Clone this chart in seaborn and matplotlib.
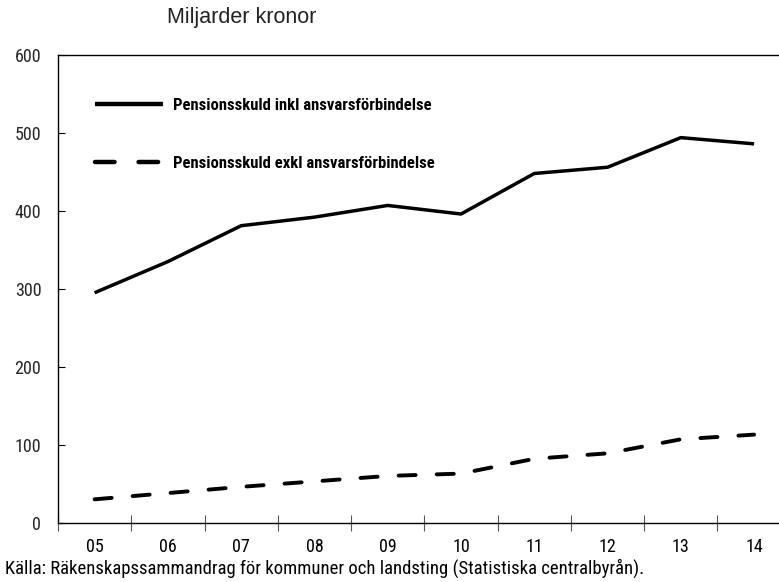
import matplotlib
matplotlib.use("Agg")
import matplotlib.pyplot as plt
import seaborn as sns
import pandas as pd
import numpy as np
from matplotlib.ticker import FixedLocator

years = ["05", "06", "07", "08", "09", "10", "11", "12", "13", "14"]
inkl = [295, 335, 381, 392, 407, 396, 448, 456, 494, 486]
exkl = [30, 38, 46, 53, 60, 63, 82, 89, 107, 113]
label_inkl = "Pensionsskuld inkl ansvarsförbindelse"
label_exkl = "Pensionsskuld exkl ansvarsförbindelse"
yticks = [0, 100, 200, 300, 400, 500, 600]

sns.set_theme(style="white")
narrow = ["Roboto Condensed", "DejaVu Sans"]
plt.rcParams["font.family"] = narrow

df = pd.DataFrame({
    "year": years * 2,
    "value": inkl + exkl,
    "serie": [label_inkl] * len(years) + [label_exkl] * len(years),
})

fig = plt.figure(figsize=(7.79, 5.82), dpi=100)
ax = fig.add_axes([58 / 779, (582 - 522.7) / 582, 1 - 58 / 779, (522.7 - 55) / 582])

sns.lineplot(data=df, x="year", y="value", hue="serie", style="serie",
             palette=["black", "black"], dashes=[(None, None), (4.4, 5.4)],
             linewidth=2.5, ax=ax, legend=True, sort=False)
for i, ln in enumerate(ax.lines):
    ln.set_dash_capstyle("round")
    ln.set_solid_capstyle("butt")
    if i == 1:
        ln.set_linewidth(2.8)

ax.set_xlim(-0.5, 9.34)
ax.set_ylim(0, 600)
ax.set_yticks(yticks)
ax.set_yticklabels([str(v) for v in yticks])
ax.set_xlabel("")
ax.set_ylabel("")

# x: labels at category centres, tick marks at boundaries
ax.tick_params(axis="x", which="major", length=0, labelsize=13, pad=11, colors="black")
ax.xaxis.set_minor_locator(FixedLocator(np.arange(-0.5, 10, 1.0)))
ax.tick_params(axis="x", which="minor", direction="inout", length=12, width=0.8,
               color="#555555", bottom=True)
ax.tick_params(axis="y", which="major", direction="in", length=5, width=0.8,
               color="black", left=True, labelsize=13, pad=12)

for s in ["left", "bottom", "top"]:
    ax.spines[s].set_visible(True)
    ax.spines[s].set_color("black")
    ax.spines[s].set_linewidth(1.0)
ax.spines["right"].set_visible(False)

handles, labels = ax.get_legend_handles_labels()
for h in handles:
    h.set_linewidth(3.2)
    h.set_dash_capstyle("round")
leg = ax.legend(handles, labels, loc="upper left",
                bbox_to_anchor=(95 / 779, 1 - 98 / 582), bbox_transform=fig.transFigure,
                frameon=False, borderpad=0, borderaxespad=0,
                handlelength=4.1, handletextpad=0.6,
                labelspacing=2.57, prop={"family": narrow, "weight": "bold", "size": 12})
for t in leg.get_texts():
    t.set_color("black")

fig.text(242 / 779, 1 - 18 / 582, "Miljarder kronor", ha="center", va="center",
         fontsize=15.5, family=["Liberation Sans", "DejaVu Sans"], color="#222222")
fig.text(5 / 779, 1 - 568 / 582,
         "Källa: Räkenskapssammandrag för kommuner och landsting (Statistiska centralbyrån).",
         ha="left", va="center", fontsize=13.5, family=narrow, color="black")

fig.savefig("out.png", dpi=100)
